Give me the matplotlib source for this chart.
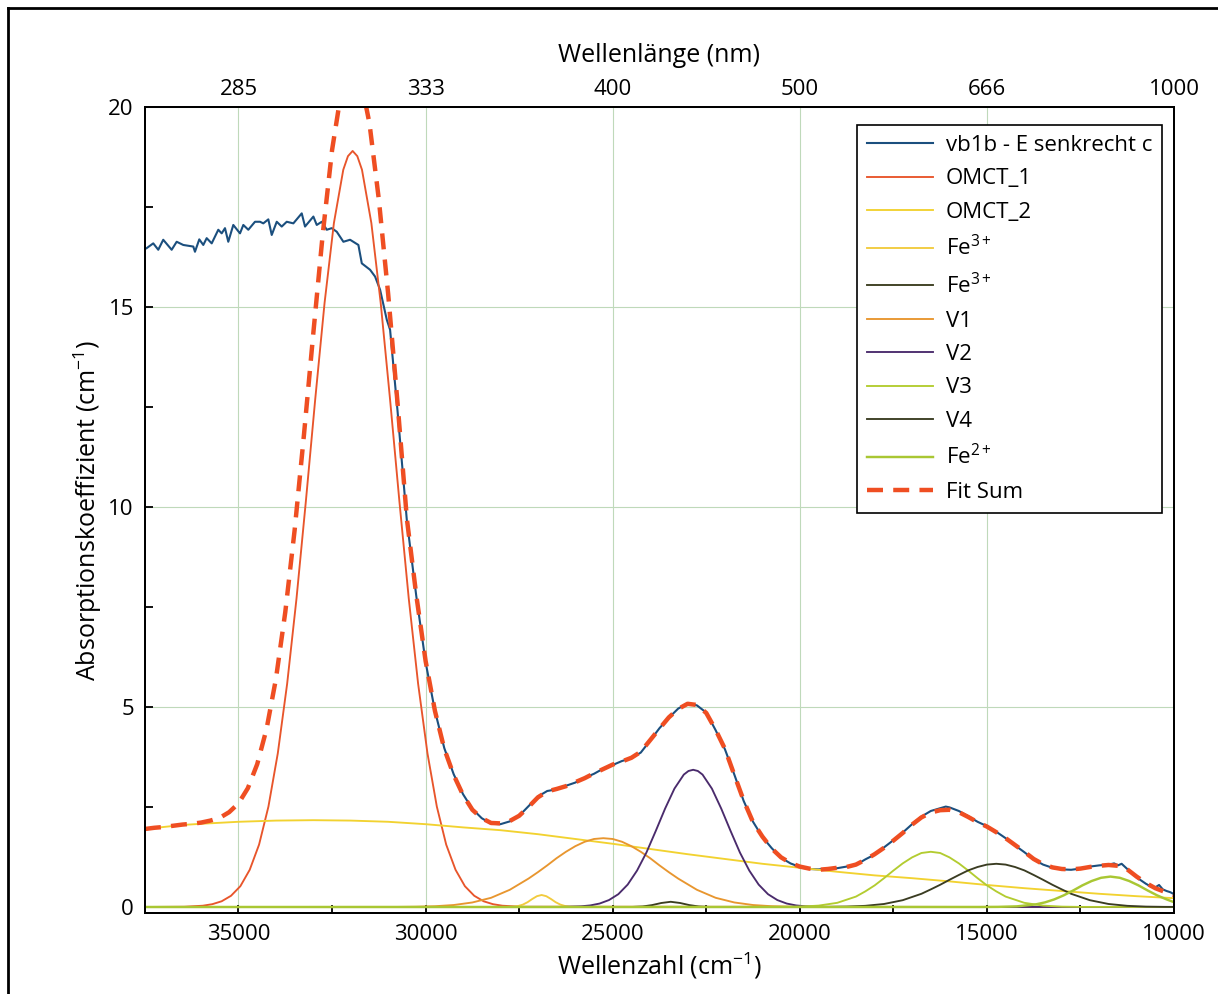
import matplotlib
matplotlib.use('Agg')
import matplotlib.pyplot as plt
from matplotlib.lines import Line2D
from matplotlib.ticker import MultipleLocator

plt.rcParams['font.family'] = ['Open Sans', 'DejaVu Sans']
plt.rcParams['mathtext.fontset'] = 'custom'
plt.rcParams['mathtext.rm'] = 'Open Sans'
plt.rcParams['mathtext.it'] = 'Open Sans:italic'
plt.rcParams['mathtext.bf'] = 'Open Sans:bold'
plt.rcParams['mathtext.default'] = 'regular'

# ---------------- data (wavenumber cm-1, absorption coefficient cm-1) ----------------
WN_TICKS = [35000, 30000, 25000, 20000, 15000, 10000]
WL_LABELS = ['285', '333', '400', '500', '666', '1000']

SPECTRUM = [
    (37500, 16.45), (37455, 16.47), (37278, 16.59), (37144, 16.43), (37011, 16.68),
    (36786, 16.43), (36652, 16.63), (36476, 16.55), (36208, 16.51), (36163, 16.38),
    (36048, 16.69), (35941, 16.55), (35850, 16.72), (35716, 16.59), (35540, 16.93),
    (35449, 16.84), (35361, 16.97), (35273, 16.63), (35139, 17.05), (34960, 16.84),
    (34871, 17.05), (34738, 16.93), (34559, 17.13), (34425, 17.13), (34337, 17.09),
    (34203, 17.19), (34112, 16.80), (33978, 17.13), (33845, 17.01), (33711, 17.13),
    (33534, 17.09), (33310, 17.34), (33222, 17.01), (32999, 17.26), (32909, 17.05),
    (32775, 17.13), (32641, 16.93), (32508, 16.97), (32374, 16.88), (32197, 16.63),
    (32018, 16.68), (31796, 16.55), (31705, 16.09), (31484, 15.93), (31350, 15.76),
    (31216, 15.43), (31037, 14.68), (30949, 14.43), (30750, 12.40), (30500, 9.65),
    (30250, 7.78), (30000, 6.12), (29750, 4.90), (29500, 3.97), (29250, 3.32),
    (29000, 2.82), (28750, 2.45), (28500, 2.22), (28250, 2.08), (28000, 2.07),
    (27750, 2.14), (27500, 2.28), (27250, 2.52), (27000, 2.76), (26750, 2.90),
    (26500, 2.94), (26250, 3.03), (26000, 3.11), (25750, 3.23), (25500, 3.33),
    (25250, 3.46), (25000, 3.55), (24750, 3.65), (24500, 3.72), (24250, 3.86),
    (24000, 4.16), (23750, 4.47), (23500, 4.73), (23250, 4.96), (23000, 5.09),
    (22750, 5.04), (22500, 4.86), (22250, 4.42), (22000, 3.94), (21750, 3.31),
    (21500, 2.65), (21250, 2.13), (21000, 1.75), (20750, 1.47), (20500, 1.23),
    (20250, 1.09), (20000, 1.00), (19750, 0.95), (19500, 0.94), (19250, 0.96),
    (19000, 0.97), (18750, 1.01), (18500, 1.05), (18250, 1.19), (18000, 1.31),
    (17750, 1.49), (17500, 1.67), (17250, 1.86), (17000, 2.07), (16750, 2.26),
    (16500, 2.40), (16250, 2.47), (16100, 2.51), (16000, 2.49), (15750, 2.40),
    (15500, 2.27), (15250, 2.13), (15000, 2.02), (14750, 1.88), (14500, 1.72),
    (14250, 1.54), (14000, 1.37), (13750, 1.19), (13500, 1.06), (13250, 0.98),
    (13000, 0.94), (12750, 0.93), (12500, 0.96), (12250, 1.01), (12000, 1.04),
    (11750, 1.06), (11600, 1.09), (11500, 1.04), (11400, 1.08), (11250, 0.95),
    (11000, 0.74), (10750, 0.58), (10600, 0.50), (10500, 0.49), (10400, 0.55),
    (10300, 0.44), (10200, 0.40), (10100, 0.37), (10000, 0.32),
]

OMCT_1 = [
    (37500, 0.0), (36450, 0.006), (35950, 0.032), (35700, 0.070), (35450, 0.143),
    (35200, 0.28), (34950, 0.52), (34700, 0.93), (34450, 1.56), (34200, 2.51),
    (33950, 3.84), (33700, 5.58), (33450, 7.71), (33200, 10.14), (32950, 12.69),
    (32700, 15.10), (32450, 17.10), (32200, 18.43), (32075, 18.77), (31950, 18.90),
    (31825, 18.77), (31700, 18.43),
    (31450, 17.10), (31200, 15.10), (30950, 12.69), (30700, 10.14), (30450, 7.71),
    (30200, 5.58), (29950, 3.84), (29700, 2.51), (29450, 1.56), (29200, 0.93),
    (28950, 0.52), (28700, 0.28), (28450, 0.143), (28200, 0.070), (27950, 0.032),
    (27450, 0.006), (10000, 0.0),
]

OMCT_2 = [
    (37500, 1.95), (37000, 2.00), (36500, 2.05), (36000, 2.08), (35000, 2.13),
    (34000, 2.16), (33000, 2.17), (32000, 2.16), (31000, 2.13), (30000, 2.07),
    (29000, 1.99), (28000, 1.92), (27000, 1.82), (26000, 1.70), (25000, 1.58),
    (24000, 1.45), (23000, 1.32), (22000, 1.20), (21000, 1.08), (20000, 0.98),
    (19000, 0.88), (18000, 0.79), (17000, 0.72), (16000, 0.64), (15000, 0.55),
    (14000, 0.47), (13000, 0.40), (12000, 0.33), (11000, 0.27), (10000, 0.22),
]

FE3_A = [
    (37500, 0.0), (27900, 0.0), (27650, 0.008), (27525, 0.025), (27400, 0.06),
    (27275, 0.12), (27150, 0.20), (27025, 0.27), (26900, 0.30), (26775, 0.27),
    (26650, 0.20), (26525, 0.12), (26400, 0.06), (26275, 0.025), (26150, 0.008),
    (25900, 0.0), (10000, 0.0),
]

FE3_B = [
    (37500, 0.0), (24500, 0.0), (24200, 0.013), (23950, 0.047), (23700, 0.10),
    (23450, 0.13), (23200, 0.10), (22950, 0.047), (22700, 0.013), (22400, 0.0),
    (10000, 0.0),
]

V1 = [
    (37500, 0.0), (30750, 0.002), (30250, 0.007), (29750, 0.019), (29250, 0.049),
    (28750, 0.113), (28250, 0.23), (27750, 0.43), (27250, 0.71), (27000, 0.87),
    (26750, 1.04), (26500, 1.22), (26250, 1.38), (26000, 1.52), (25750, 1.63),
    (25500, 1.70), (25250, 1.72), (25000, 1.70), (24750, 1.63), (24500, 1.52),
    (24250, 1.38), (24000, 1.22), (23750, 1.04), (23500, 0.87), (23250, 0.71),
    (22750, 0.43), (22250, 0.23), (21750, 0.113), (21250, 0.049), (20750, 0.019),
    (20250, 0.007), (19750, 0.002), (10000, 0.0),
]

V2 = [
    (37500, 0.0), (26350, 0.002), (25850, 0.017), (25600, 0.039), (25350, 0.086),
    (25100, 0.173), (24850, 0.32), (24600, 0.56), (24350, 0.91), (24100, 1.36),
    (23850, 1.90), (23600, 2.46), (23350, 2.96), (23100, 3.31), (22975, 3.40),
    (22850, 3.43), (22725, 3.40),
    (22600, 3.31), (22350, 2.96), (22100, 2.46), (21850, 1.90), (21600, 1.36),
    (21350, 0.91), (21100, 0.56), (20850, 0.32), (20600, 0.173), (20350, 0.086),
    (20100, 0.039), (19850, 0.017), (19350, 0.002), (10000, 0.0),
]

V3 = [
    (37500, 0.0), (20500, 0.002), (20000, 0.009), (19500, 0.034), (19000, 0.104),
    (18500, 0.26), (18250, 0.39), (18000, 0.54), (17750, 0.72), (17500, 0.91),
    (17250, 1.09), (17000, 1.24), (16750, 1.35), (16500, 1.38), (16250, 1.35),
    (16000, 1.24), (15750, 1.09), (15500, 0.91), (15250, 0.72), (15000, 0.54),
    (14750, 0.39), (14500, 0.26), (14000, 0.104), (13500, 0.034), (13000, 0.009),
    (12500, 0.002), (10000, 0.0),
]

V4 = [
    (37500, 0.0), (19750, 0.001), (19250, 0.003), (18750, 0.0095), (18250, 0.029),
    (17750, 0.075), (17250, 0.17), (16750, 0.33), (16500, 0.44), (16250, 0.555),
    (16000, 0.68), (15750, 0.80), (15500, 0.915), (15250, 1.00), (15000, 1.06),
    (14750, 1.08), (14500, 1.06), (14250, 1.00), (14000, 0.915), (13750, 0.80),
    (13500, 0.68), (13250, 0.555), (13000, 0.44), (12750, 0.33), (12250, 0.17),
    (11750, 0.075), (11250, 0.029), (10750, 0.0095), (10250, 0.003), (10000, 0.002),
]

FE2 = [
    (37500, 0.0), (15200, 0.0), (14700, 0.003), (14200, 0.016), (13700, 0.064),
    (13450, 0.115), (13200, 0.19), (12950, 0.29), (12700, 0.41), (12450, 0.54),
    (12200, 0.65), (11950, 0.73), (11700, 0.76), (11450, 0.73), (11200, 0.65),
    (10950, 0.54), (10700, 0.41), (10450, 0.29), (10200, 0.19), (10000, 0.12),
]

FIT_SUM = [
    (37500, 1.95), (37250, 1.98), (37000, 2.00), (36750, 2.03), (36500, 2.06),
    (36250, 2.08), (36000, 2.11), (35750, 2.16), (35500, 2.23), (35250, 2.37),
    (35000, 2.59), (34750, 2.97), (34500, 3.57), (34250, 4.45), (34000, 5.70),
    (33750, 7.37), (33500, 9.42), (33250, 11.81), (33000, 14.35), (32750, 16.81),
    (32500, 18.92), (32250, 20.40), (32000, 21.04), (31750, 20.76), (31500, 19.59),
    (31250, 17.69), (31000, 15.32), (30750, 12.60), (30500, 9.70), (30250, 7.80),
    (30000, 6.15), (29750, 4.90), (29500, 3.95), (29250, 3.30), (29000, 2.80),
    (28750, 2.43), (28500, 2.22), (28250, 2.10), (28000, 2.09), (27750, 2.15),
    (27500, 2.28), (27250, 2.50), (27000, 2.74), (26750, 2.89), (26500, 2.95),
    (26250, 3.02), (26000, 3.12), (25750, 3.22), (25500, 3.34), (25250, 3.45),
    (25000, 3.56), (24750, 3.64), (24500, 3.73), (24250, 3.88), (24000, 4.17),
    (23750, 4.46), (23500, 4.74), (23250, 4.95), (23000, 5.08), (22750, 5.05),
    (22500, 4.85), (22250, 4.43), (22000, 3.95), (21750, 3.30), (21500, 2.66),
    (21250, 2.12), (21000, 1.76), (20750, 1.46), (20500, 1.24), (20250, 1.10),
    (20000, 1.01), (19750, 0.96), (19500, 0.93), (19250, 0.95), (19000, 0.98),
    (18750, 1.00), (18500, 1.06), (18250, 1.18), (18000, 1.32), (17750, 1.48),
    (17500, 1.66), (17250, 1.85), (17000, 2.06), (16750, 2.24), (16500, 2.36),
    (16250, 2.42), (16000, 2.43), (15750, 2.37), (15500, 2.25), (15250, 2.12),
    (15000, 2.01), (14750, 1.87), (14500, 1.72), (14250, 1.55), (14000, 1.38),
    (13750, 1.20), (13500, 1.07), (13250, 0.99), (13000, 0.95), (12750, 0.94),
    (12500, 0.96), (12250, 1.00), (12000, 1.03), (11750, 1.05), (11500, 1.03),
    (11250, 0.94), (11000, 0.76), (10750, 0.60), (10500, 0.47), (10250, 0.38),
    (10000, 0.30),
]


def xy(pairs):
    return [p[0] for p in pairs], [p[1] for p in pairs]


# ---------------- figure ----------------
fig = plt.figure(figsize=(12.18, 9.94), dpi=100)
ax = fig.add_axes([0.1190, 0.0815, 0.8449, 0.8109])

comp_lw = 1.35
ax.plot(*xy(SPECTRUM), color='#1b4f7e', lw=1.5, label='vb1b - E senkrecht c', zorder=3)
ax.plot(*xy(OMCT_1), color='#e8552b', lw=comp_lw, label='OMCT_1', zorder=3)
ax.plot(*xy(OMCT_2), color='#f2d230', lw=comp_lw, label='OMCT_2', zorder=3)
ax.plot(*xy(FE3_A), color='#f2cb3e', lw=comp_lw, label='Fe$^{3+}$', zorder=3)
ax.plot(*xy(FE3_B), color='#3b3d20', lw=comp_lw, label='Fe$^{3+}$', zorder=3)
ax.plot(*xy(V1), color='#e8962f', lw=comp_lw, label='V1', zorder=3)
ax.plot(*xy(V2), color='#4a2b6c', lw=comp_lw, label='V2', zorder=3)
ax.plot(*xy(V3), color='#b3cc30', lw=comp_lw, label='V3', zorder=3)
ax.plot(*xy(V4), color='#3a3c22', lw=comp_lw, label='V4', zorder=3)
ax.plot(*xy(FE2), color='#a9c733', lw=comp_lw + 0.4, label='Fe$^{2+}$', zorder=3)
ax.plot(*xy(FIT_SUM), color='#ef4e22', lw=3.2, dashes=(3.6, 2.3),
        label='Fit Sum', zorder=5)

ax.set_xlim(37500, 10000)
ax.set_ylim(-0.15, 20)
ax.set_xticks(WN_TICKS)
ax.xaxis.set_minor_locator(MultipleLocator(2500))
ax.yaxis.set_major_locator(MultipleLocator(5))
ax.yaxis.set_minor_locator(MultipleLocator(2.5))
ax.tick_params(which='both', direction='in', length=5.5, width=1.3,
               top=False, right=False, labelsize=16, pad=8)
ax.grid(which='major', color='#bfd9ba', lw=0.8)
ax.set_axisbelow(True)
for s in ax.spines.values():
    s.set_linewidth(1.4)

ax.set_xlabel('Wellenzahl (cm$^{-1}$)', fontsize=18, labelpad=4)
ax.set_ylabel('Absorptionskoeffizient (cm$^{-1}$)', fontsize=18, labelpad=3)

ax2 = ax.twiny()
ax2.set_xlim(ax.get_xlim())
ax2.set_xticks(WN_TICKS)
ax2.set_xticklabels(WL_LABELS)
ax2.tick_params(length=0, labelsize=16, pad=5)
ax2.set_xlabel('Wellenlänge (nm)', fontsize=18, labelpad=12)
for s in ax2.spines.values():
    s.set_linewidth(1.4)

leg = ax.legend(loc='upper right', bbox_to_anchor=(0.9883, 0.9777),
                borderaxespad=0, fontsize=16, frameon=True, fancybox=False,
                edgecolor='black', framealpha=1, handlelength=3.0,
                handletextpad=0.55, labelspacing=0.56, borderpad=0.45)
leg.get_frame().set_linewidth(1.2)
leg.set_zorder(10)

# page frame lines (left and top)
fig.add_artist(Line2D([0.0066, 0.0066], [0.0, 0.992], transform=fig.transFigure,
                      color='black', lw=2))
fig.add_artist(Line2D([0.0066, 1.0], [0.992, 0.992], transform=fig.transFigure,
                      color='black', lw=2))

fig.savefig('out.png', dpi=100)
